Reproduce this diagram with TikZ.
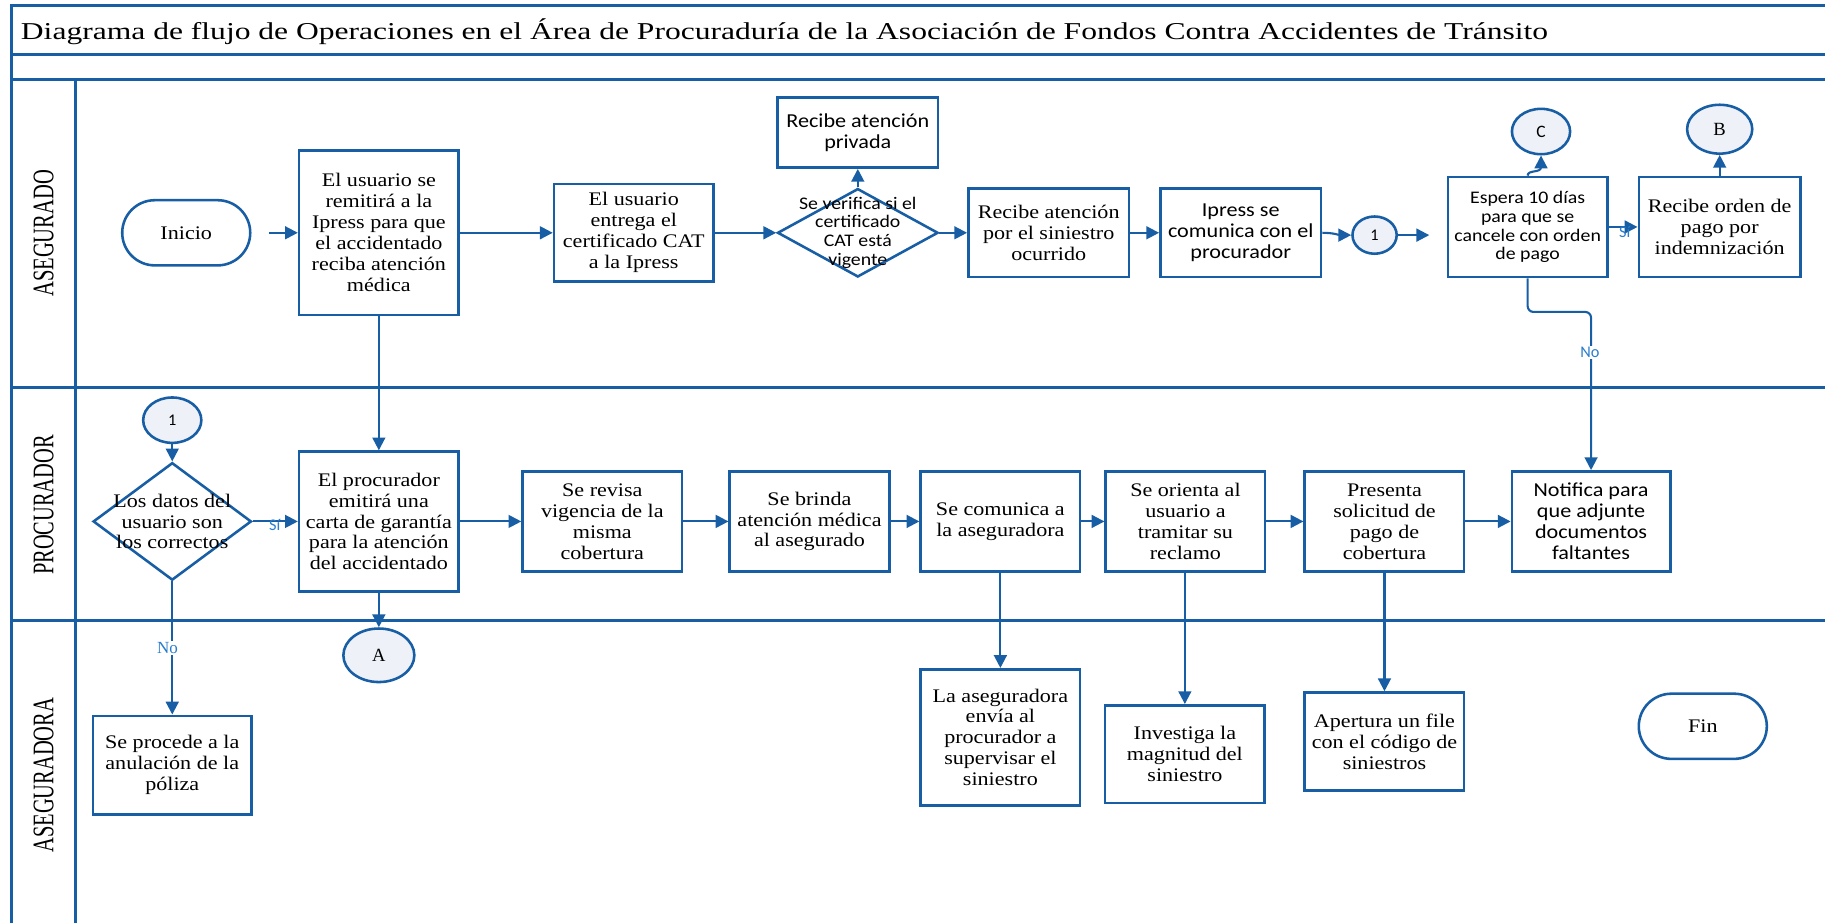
\documentclass[tikz,border=0pt]{standalone}
\usepackage{fontspec}
\usepackage{graphicx}
\usetikzlibrary{arrows.meta,shapes.geometric,shapes.misc}
\setmainfont{Liberation Serif}
\newfontfamily\boxserif{Liberation Serif}[FakeStretch=1.15]
\newfontfamily\boxsans{Carlito}[FakeStretch=1.12]
\newfontfamily\plainsans{Carlito}
\definecolor{flowblue}{RGB}{24,94,164}
\definecolor{tagblue}{RGB}{40,125,205}
\definecolor{connfill}{RGB}{238,241,248}
\newcommand\fntserif{\boxserif\fontsize{8.25pt}{9pt}\selectfont}
\newcommand\fntsans{\boxsans\fontsize{8.5pt}{9pt}\selectfont}
\newcommand\fntsanssm{\boxsans\fontsize{7.6pt}{8.1pt}\selectfont}
\tikzset{
  lane/.style={draw=flowblue, line width=1.2pt},
  proc/.style 2 args={rectangle, draw=flowblue, line width=1.1pt, fill=white,
    minimum width=#1*0.5pt, minimum height=#2*0.5pt, inner sep=0pt,
    align=center, font=\fntserif},
  procsans/.style 2 args={proc={#1}{#2}, font=\fntsans},
  term/.style 2 args={rounded rectangle, draw=flowblue, line width=1.1pt,
    minimum width=#1*0.5pt, minimum height=#2*0.5pt, inner sep=0pt, font=\fntserif},
  dec/.style 2 args={diamond, draw=flowblue, line width=1.1pt, fill=white,
    minimum width=#1*0.5pt, minimum height=#2*0.5pt, inner sep=0pt},
  dectext/.style={align=center, inner sep=0pt},
  conn/.style 2 args={ellipse, draw=flowblue, line width=1.1pt, fill=connfill,
    minimum width=#1*0.5pt, minimum height=#2*0.5pt, inner sep=0pt},
  flow/.style={draw=flowblue, line width=0.9pt, -{Triangle[length=5.5pt,width=5.5pt]}},
  tagsans/.style={inner sep=0.5pt, text=tagblue, font=\plainsans\fontsize{7pt}{8pt}\selectfont},
  tagserif/.style={inner sep=0.5pt, text=tagblue, font=\fontsize{7.3pt}{8pt}\selectfont},
}
\begin{document}
\begin{tikzpicture}[x=0.5pt,y=-0.5pt]
\useasboundingbox (0,0) rectangle (1568,793);

% pool frame and swimlanes
\draw[lane] (1568,5) -- (10,5) -- (10,793);
\draw[lane] (10,47) -- (1568,47);
\draw[lane] (10,68) -- (1568,68);
\draw[lane] (65,68) -- (65,793);
\draw[lane] (10,333) -- (1568,333);
\draw[lane] (10,533) -- (1568,533);

\node[anchor=base west, inner sep=0pt] (title) at (17.6,33.8)
  {\resizebox{656pt}{\height}{\fontsize{10.4pt}{12pt}\selectfont Diagrama de flujo de Operaciones en el Área de Procuraduría de la Asociación de Fondos Contra Accidentes de Tránsito}};

\node[rotate=90, inner sep=0pt] (lblA) at (37.5,200.5) {\resizebox{54.5pt}{8.5pt}{ASEGURADO}};
\node[rotate=90, inner sep=0pt] (lblP) at (37.5,434) {\resizebox{60pt}{8.5pt}{PROCURADOR}};
\node[rotate=90, inner sep=0pt] (lblS) at (37.5,666) {\resizebox{66.5pt}{8.5pt}{ASEGURADORA}};

% ---- ASEGURADO
\node[term={110}{56}] (inicio) at (160,200) {Inicio};
\node[proc={137}{141}] (b1) at (325.5,200) {El usuario se\\remitirá a la\\Ipress para que\\el accidentado\\reciba atención\\médica};
\node[proc={137}{84}] (b2) at (544.5,200) {El usuario\\entrega el\\certificado CAT\\a la Ipress};
\node[dec={138}{76}] (d1) at (737,200) {};
\node[dectext, font=\fntsanssm] (d1t) at (737,200) {Se verifica si el\\certificado\\CAT está\\vigente};
\node[procsans={138}{60}] (priv) at (737,114) {Recibe atención\\privada};
\node[proc={138}{76}] (b3) at (901,200) {Recibe atención\\por el siniestro\\ocurrido};
\node[procsans={138}{76}] (b4) at (1066,200) {Ipress se\\comunica con el\\procurador};
\node[conn={38}{32}, font=\plainsans\fontsize{7pt}{8pt}\selectfont] (c1a) at (1181,202) {1};
\coordinate (toespera) at (1228,202);
\node[proc={137}{86}, font=\fntsanssm] (b5) at (1312.5,195) {Espera 10 días\\para que se\\cancele con orden\\de pago};
\node[proc={139}{86}] (b6) at (1477.5,195) {Recibe orden de\\pago por\\indemnización};
\node[conn={50}{39}, font=\plainsans\fontsize{7.5pt}{8pt}\selectfont] (cc) at (1324,113) {C};
\node[conn={56}{42}, font=\fontsize{8pt}{9pt}\selectfont] (cb) at (1477.5,111) {B};

% ---- PROCURADOR
\node[conn={50}{39}, font=\plainsans\fontsize{7pt}{8pt}\selectfont] (c1b) at (148,361) {1};
\node[dec={136}{101}] (d2) at (148,448) {};
\node[dectext, font=\fntserif] (d2t) at (148,448) {Los datos del\\usuario son\\los correctos};
\node[proc={137}{120}] (b7) at (325.5,448) {El procurador\\emitirá una\\carta de garantía\\para la atención\\del accidentado};
\node[proc={137}{86}] (b8) at (517.5,448) {Se revisa\\vigencia de la\\misma\\cobertura};
\node[proc={137}{86}] (b9) at (695.5,448) {Se brinda\\atención médica\\al asegurado};
\node[proc={137}{86}] (b10) at (859.5,448) {Se comunica a\\la aseguradora};
\node[proc={137}{86}] (b11) at (1018.5,448) {Se orienta al\\usuario a\\tramitar su\\reclamo};
\node[proc={137}{86}] (b12) at (1189.5,448) {Presenta\\solicitud de\\pago de\\cobertura};
\node[procsans={136}{86}] (b13) at (1367,448) {Notifica para\\que adjunte\\documentos\\faltantes};

% ---- ASEGURADORA
\node[conn={61}{46}, font=\fontsize{8pt}{9pt}\selectfont] (ca) at (325.5,563) {A};
\node[proc={136}{85}] (b14) at (148,657.5) {Se procede a la\\anulación de la\\póliza};
\node[proc={137}{117}] (b15) at (859.5,633.5) {La aseguradora\\envía al\\procurador a\\supervisar el\\siniestro};
\node[proc={137}{84}] (b16) at (1018,648) {Investiga la\\magnitud del\\siniestro};
\node[proc={137}{84}] (b17) at (1189.5,637) {Apertura un file\\con el código de\\siniestros};
\node[term={110}{56}] (fin) at (1463,624) {Fin};

% ---- connectors
\draw[flow] ([xshift=7.5pt]inicio.east) -- (b1.west);
\draw[flow] (b1.east) -- (b2.west);
\draw[flow] (b2.east) -- (d1.west);
\draw[flow] (d1.north) -- (priv.south);
\draw[flow] (d1.east) -- (b3.west);
\draw[flow] (b3.east) -- (b4.west);
\draw[flow] (b4.east) to[out=0,in=180] (c1a.west);
\draw[flow] (c1a.east) -- (toespera);
\draw[flow] (b5.north) to[out=90,in=-90] ([yshift=-5pt]cc.south) -- (cc.south);
\draw[flow] (b5.east) -- (b6.west);
\node[tagsans] (si1) at (1396,199) {Sí};
\draw[flow] (b6.north) -- (cb.south);
\draw[flow, rounded corners=2.5pt] (b5.south) -- (1312.5,268) -- (1367,268) -- (b13.north);
\node[tagsans, fill=white] (no1) at (1366,303) {No};

\draw[flow] (b1.south) -- (b7.north);
\draw[flow] (c1b.south) -- (d2.north);
\draw[flow] (d2.east) -- (b7.west);
\node[tagsans] (si2) at (236,451) {Sí};
\draw[flow] (b7.east) -- (b8.west);
\draw[flow] (b8.east) -- (b9.west);
\draw[flow] (b9.east) -- (b10.west);
\draw[flow] (b10.east) -- (b11.west);
\draw[flow] (b11.east) -- (b12.west);
\draw[flow] (b12.east) -- (b13.west);
\draw[flow] (b7.south) -- (ca.north);

\draw[flow] (d2.south) -- (b14.north);
\node[tagserif, fill=white] (no2) at (144,557) {No};
\draw[flow] (b10.south) -- (b15.north);
\draw[flow] (b11.south -| b16.north) -- (b16.north);
\draw[flow] (b12.south) -- (b17.north);
\end{tikzpicture}
\end{document}
